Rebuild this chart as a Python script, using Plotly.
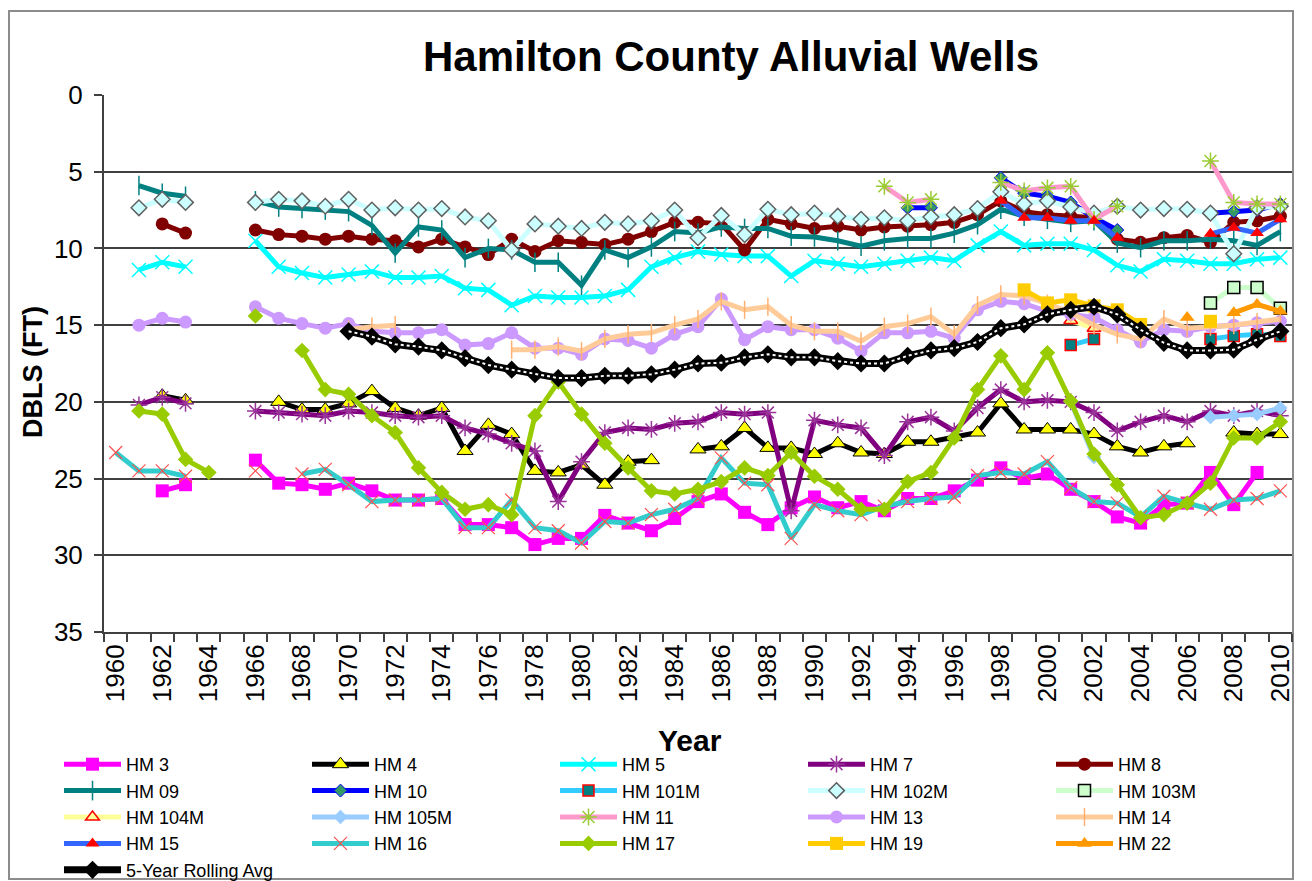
import plotly.graph_objects as go

YEARS = list(range(1960, 2011))
N = None

HM3 = [N, N, 25.8, 25.4, N, N, 23.8, 25.3, 25.4, 25.7,
       25.3, 25.8, 26.4, 26.4, 26.3, 28.0, 28.0, 28.2, 29.3, 28.9,
       28.9, 27.4, 27.9, 28.4, 27.6, 26.5, 26.0, 27.2, 28.0, 26.9,
       26.2, 26.9, 26.5, 27.1, 26.3, 26.3, 25.8, 25.1, 24.3, 25.0,
       24.7, 25.7, 26.5, 27.5, 27.9, 26.7, 26.6, 24.6, 26.7, 24.6,
       N]
HM4 = [N, N, 19.6, 19.9, N, N, N, 20.0, 20.5, 20.5,
       20.1, 19.3, 20.4, 20.9, 20.4, 23.2, 21.5, 22.1, 24.5, 24.6,
       24.1, 25.4, 23.9, 23.8, N, 23.1, 22.9, 21.7, 23.0, 23.0,
       23.4, 22.7, 23.3, 23.4, 22.6, 22.6, 22.3, 22.0, 20.1, 21.8,
       21.8, 21.8, 22.1, 22.9, 23.3, 22.9, 22.7, N, 22.0, 22.1,
       22.1]
HM5 = [N, 11.4, 10.9, 11.2, N, N, 9.5, 11.2, 11.6, 11.9,
       11.7, 11.5, 11.9, 11.9, 11.8, 12.6, 12.7, 13.7, 13.1, 13.2,
       13.2, 13.1, 12.7, 11.2, 10.6, 10.2, 10.4, 10.5, 10.5, 11.8,
       10.8, 11.0, 11.2, 11.0, 10.8, 10.6, 10.8, 9.8, 8.9, 9.8,
       9.7, 9.7, 10.1, 11.1, 11.5, 10.7, 10.8, 11.0, 11.0, 10.7,
       10.6]
HM7 = [N, 20.2, 19.7, 20.1, N, N, 20.6, 20.7, 20.8, 20.9,
       20.6, 20.7, 20.9, 21.0, 20.9, 21.7, 22.1, 22.7, 23.2, 26.5,
       23.9, 22.0, 21.7, 21.8, 21.4, 21.3, 20.7, 20.8, 20.7, 27.1,
       21.2, 21.5, 21.7, 23.5, 21.3, 21.0, 21.9, 20.4, 19.2, 20.0,
       19.9, 20.0, 20.7, 21.9, 21.3, 20.9, 21.3, 20.6, 20.9, 20.6,
       20.9]
HM8 = [N, N, 8.4, 9.0, N, N, 8.8, 9.1, 9.2, 9.4,
       9.2, 9.4, 9.5, 9.9, 9.4, 9.9, 10.4, 9.4, 10.2, 9.5,
       9.6, 9.75, 9.4, 8.9, 8.3, 8.3, 8.4, 10.1, 8.1, 8.4,
       8.7, 8.55, 8.8, 8.6, 8.55, 8.45, 8.3, 7.8, 6.9, 7.6,
       7.8, 7.9, 8.0, 9.4, 9.6, 9.3, 9.15, 9.6, 8.3, 8.2,
       7.9]
HM09 = [N, 5.9, 6.4, 6.6, N, N, 6.9, 7.3, 7.4, 7.5,
        7.6, 8.5, 10.3, 8.6, 8.8, 10.6, 10.0, 10.1, 10.9, 10.9,
        12.4, 10.1, 10.6, 9.9, 8.9, 9.0, 8.6, 8.7, 8.7, 9.2,
        9.25, 9.5, 9.85, 9.5, 9.35, 9.35, 9.0, 8.45, 7.45, 7.9,
        8.1, 8.3, 8.2, 9.65, 9.95, 9.5, 9.5, 9.4, 9.5, 9.8,
        8.9]
HM10 = [N] * 30 + [N, N, N, N, 7.35, 7.35, N, N, 5.4, 6.4,
                   6.6, 7.0, 8.0, 8.8, N, N, N, 7.7, 7.6, 7.5,
                   7.1]
HM101M = [N] * 41 + [16.3, 15.9, N, N, N, N, 15.9, 15.7, 15.6, 15.7]
HM102M = [N, 7.35, 6.8, 7.0, N, N, 7.0, 6.8, 6.9, 7.25,
          6.8, 7.5, 7.35, 7.5, 7.4, 7.95, 8.2, 10.1, 8.4, 8.55,
          8.7, 8.3, 8.4, 8.2, 7.5, 9.3, 7.85, 9.1, 7.45, 7.8,
          7.7, 7.9, 8.1, 8.0, 8.2, 7.95, 7.8, 7.4, 6.3, 7.1,
          6.9, 7.3, 7.7, 7.25, 7.5, 7.4, 7.45, 7.7, 10.35, 7.35,
          7.25]
HM103M = [N] * 47 + [13.55, 12.55, 12.55, 13.9]
HM104M = [N] * 41 + [14.7, 15.2] + [N] * 8
HM105M = [N] * 41 + [20.0, 23.6, N, N, N, N, 21.0, 20.9, 20.8, 20.4]
HM11 = [N] * 33 + [5.95, 7.0, 6.8, N, N, 5.7, 6.25,
                   6.05, 5.95, 8.1, 7.25, N, N, N, 4.3, 7.0, 7.1,
                   7.1]
HM13 = [N, 15.0, 14.55, 14.8, N, N, 13.8, 14.55, 14.9, 15.2,
        14.9, 15.4, 15.5, 15.5, 15.3, 16.3, 16.2, 15.5, 16.5, 16.5,
        16.9, 15.9, 16.0, 16.5, 15.6, 15.1, 13.3, 15.95, 15.1, 15.3,
        15.3, 15.85, 16.7, 15.5, 15.5, 15.4, 15.85, 14.0, 13.45, 13.6,
        14.1, 14.3, 14.5, 15.3, 16.1, 15.3, 15.4, 15.1, 15.0, 14.85,
        14.75]
HM14 = [N] * 10 + [15.3, 15.1, 15.0, N, N, N, N, 16.6, 16.6, 16.4,
                   16.7, 15.9, 15.6, 15.5, 15.0, 14.6, 13.45, 14.0, 13.8, 15.0,
                   15.4, 15.4, 16.05, 15.1, 14.9, 14.45, 15.6, 13.7, 13.0, 13.1,
                   13.6, 14.2, 15.0, 15.6, 15.9, 14.6, 15.2, 15.1, 15.0, 14.8,
                   14.6]
HM15 = [N] * 38 + [6.9, 8.0, 8.0, 8.2, 8.2, 9.3, N, N, N, 9.05, 8.65, 9.0, 8.1]
HM16 = [23.3, 24.5, 24.5, 24.85, N, N, 24.5, N, 24.7, 24.4,
        25.4, 26.5, 26.4, 26.4, 26.3, 28.2, 28.2, 26.4, 28.2, 28.4,
        29.2, 27.8, 27.9, 27.35, 27.0, 26.3, 23.65, 25.3, 25.4, 28.9,
        26.7, 27.1, 27.35, 26.8, 26.5, 26.3, 26.2, 24.8, 24.6, 24.7,
        23.9, 25.6, 26.5, 26.6, 27.5, 26.15, 26.6, 27.0, 26.4, 26.3,
        25.8]
HM17 = [N, 20.6, 20.8, 23.75, 24.6, N, 14.4, N, 16.65, 19.2,
        19.5, 20.9, 22.0, 24.3, 25.9, 27.0, 26.7, 27.35, 20.9, 18.7,
        20.8, 22.7, 24.3, 25.8, 26.0, 25.7, 25.2, 24.3, 24.8, 23.3,
        24.85, 25.7, 27.0, 27.0, 25.2, 24.6, 22.35, 19.2, 17.0, 19.2,
        16.8, 19.95, 23.4, 25.4, 27.55, 27.35, 26.6, 25.3, 22.35, 22.35,
        21.3]
HM19 = [N] * 39 + [12.7, 13.55, 13.35, 13.75, 14.0, 14.95, N, N, 14.75, N, N, N]
HM22 = [N] * 46 + [14.5, N, 14.2, 13.65, 14.1]
ROLLING_AVG = [N] * 10 + [15.4, 15.75, 16.25, 16.4, 16.65, 17.15, 17.6, 17.9, 18.2, 18.45,
                          18.45, 18.3, 18.3, 18.2, 17.9, 17.5, 17.45, 17.1, 16.9, 17.1,
                          17.1, 17.35, 17.5, 17.5, 17.0, 16.65, 16.5, 16.1, 15.2, 14.95,
                          14.3, 14.0, 13.8, 14.3, 15.3, 16.15, 16.65, 16.65, 16.6, 15.95,
                          15.4]

SERIES = [
    ("HM 3", HM3), ("HM 4", HM4), ("HM 5", HM5), ("HM 7", HM7), ("HM 8", HM8),
    ("HM 09", HM09), ("HM 10", HM10), ("HM 101M", HM101M), ("HM 102M", HM102M),
    ("HM 103M", HM103M), ("HM 104M", HM104M), ("HM 105M", HM105M), ("HM 11", HM11),
    ("HM 13", HM13), ("HM 14", HM14), ("HM 15", HM15), ("HM 16", HM16),
    ("HM 17", HM17), ("HM 19", HM19), ("HM 22", HM22),
    ("5-Year Rolling Avg", ROLLING_AVG),
]
for _name, _vals in SERIES:
    assert len(_vals) == len(YEARS), (_name, len(_vals))

# style: line color, line width, marker symbol, marker size, marker fill, marker edge color, marker edge width
STYLES = {
    "HM 3": ("#FF00FF", 5, "square", 13, "#FF00FF", "#FF00FF", 0),
    "HM 4": ("#000000", 5, "triangle-up", 14, "#FFFF00", "#000000", 1),
    "HM 5": ("#00FFFF", 5, "x-thin-open", 14, "#00FFFF", "#00FFFF", 1.5),
    "HM 7": ("#800080", 5, "asterisk-open", 14, "#993399", "#993399", 1.5),
    "HM 8": ("#800000", 5, "circle", 13, "#800000", "#800000", 0),
    "HM 09": ("#008080", 5, "line-ns-open", 14, "#008080", "#008080", 1.5),
    "HM 10": ("#0000FF", 5, "diamond", 10, "#339966", "#0000FF", 1),
    "HM 101M": ("#33CCFF", 5, "square", 11, "#008080", "#FF0000", 1.5),
    "HM 102M": ("#CCFFFF", 5, "diamond", 12, "#CCFFFF", "#606060", 1.5),
    "HM 103M": ("#CCFFCC", 5, "square", 12, "#CCFFCC", "#000000", 1.5),
    "HM 104M": ("#FFFF99", 5, "triangle-up", 12, "#FFFF99", "#FF0000", 1.5),
    "HM 105M": ("#99CCFF", 5, "diamond", 11, "#99CCFF", "#99CCFF", 0),
    "HM 11": ("#FF99CC", 5, "asterisk-open", 14, "#99CC33", "#99CC33", 1.5),
    "HM 13": ("#CC99FF", 5, "circle", 13, "#CC99FF", "#CC99FF", 0),
    "HM 14": ("#FFCC99", 5, "line-ns-open", 13, "#FFB070", "#FFB070", 1.5),
    "HM 15": ("#3366FF", 5, "triangle-up", 12, "#FF0000", "#FF0000", 0),
    "HM 16": ("#33CCCC", 5, "x-thin-open", 13, "#FF5050", "#FF5050", 1.2),
    "HM 17": ("#99CC00", 5, "diamond", 12, "#99CC00", "#99CC00", 0),
    "HM 19": ("#FFCC00", 5, "square", 13, "#FFCC00", "#FFCC00", 0),
    "HM 22": ("#FF9900", 5, "triangle-up", 13, "#FF9900", "#FF9900", 0),
    "5-Year Rolling Avg": ("#000000", 7, "diamond", 14, "#000000", "#000000", 0),
}

FONT = "Liberation Sans, Arial, sans-serif"

fig = go.Figure()
for name, vals in SERIES:
    lc, lw, sym, ms, mfill, medge, mew = STYLES[name]
    fig.add_trace(go.Scatter(
        x=YEARS, y=vals, name=name, mode="lines+markers",
        line=dict(color=lc, width=lw),
        marker=dict(symbol=sym, size=ms, color=mfill,
                    line=dict(color=medge, width=mew)),
        legendgroup=name,
    ))
    if name == "5-Year Rolling Avg":
        fig.add_trace(go.Scatter(
            x=YEARS, y=vals, mode="lines", showlegend=False, legendgroup=name,
            line=dict(color="#FFFFFF", width=2, dash="dot"), hoverinfo="skip",
        ))

W, H = 1312, 881
ML, MR, MT, MB = 104, 20, 95, 249
PW, PH = W - ML - MR, H - MT - MB


def px_x(p):
    return (p - ML) / PW


def px_y(p):
    return (H - MB - p) / PH


fig.update_layout(
    width=W, height=H,
    margin=dict(l=ML, r=MR, t=MT, b=MB, autoexpand=False),
    paper_bgcolor="white", plot_bgcolor="white",
    font=dict(family=FONT, color="black"),
    title=dict(text="Hamilton County Alluvial Wells", x=731 / W, xanchor="center",
               y=1 - 56 / H, yanchor="middle",
               font=dict(size=42, family=FONT, weight="bold", color="black")),
    showlegend=True,
    legend=dict(orientation="h", x=px_x(59), y=px_y(746), xanchor="left", yanchor="top",
                entrywidth=176, entrywidthmode="pixels", itemwidth=57,
                font=dict(size=18, family=FONT), bgcolor="rgba(0,0,0,0)",
                traceorder="normal"),
    xaxis=dict(range=[1959.5, 2010.5], tickmode="array",
               tickvals=[y for y in YEARS if y % 2 == 0],
               ticktext=[str(y) for y in YEARS if y % 2 == 0],
               tickangle=-90, ticks="", showgrid=False, zeroline=False,
               showline=True, linecolor="#404040", linewidth=2,
               tickfont=dict(size=26, family=FONT),
               minor=dict(tickmode="array", tickvals=[y - 0.5 for y in YEARS] + [2010.5],
                          ticks="outside", ticklen=8, tickcolor="#404040", tickwidth=1.5,
                          showgrid=False)),
    yaxis=dict(range=[35, 0], tickmode="array", tickvals=[0, 5, 10, 15, 20, 25, 30, 35],
               ticks="outside", ticklen=8, tickcolor="#404040", tickwidth=1.5,
               showgrid=True, gridcolor="#404040", gridwidth=1.5, zeroline=False,
               showline=True, linecolor="#404040", linewidth=2,
               ticklabelstandoff=6,
               tickfont=dict(size=26, family=FONT)),
    annotations=[
        dict(text="Year", x=px_x(690), y=px_y(740), xref="paper", yref="paper",
             showarrow=False, xanchor="center", yanchor="middle",
             font=dict(size=30, family=FONT, weight="bold", color="black")),
        dict(text="DBLS (FT)", x=px_x(33), y=px_y(372), xref="paper", yref="paper",
             showarrow=False, textangle=-90, xanchor="center", yanchor="middle",
             font=dict(size=27, family=FONT, weight="bold", color="black")),
    ],
    shapes=[dict(type="rect", xref="paper", yref="paper",
                 x0=px_x(9), x1=px_x(1293), y0=px_y(879), y1=px_y(11),
                 line=dict(color="#8C8C8C", width=2), fillcolor="rgba(0,0,0,0)",
                 layer="below")],
)

fig.write_html("out.html",
               config={"displayModeBar": False},
               post_script="document.body.style.margin='0';document.body.style.overflow='hidden';")
